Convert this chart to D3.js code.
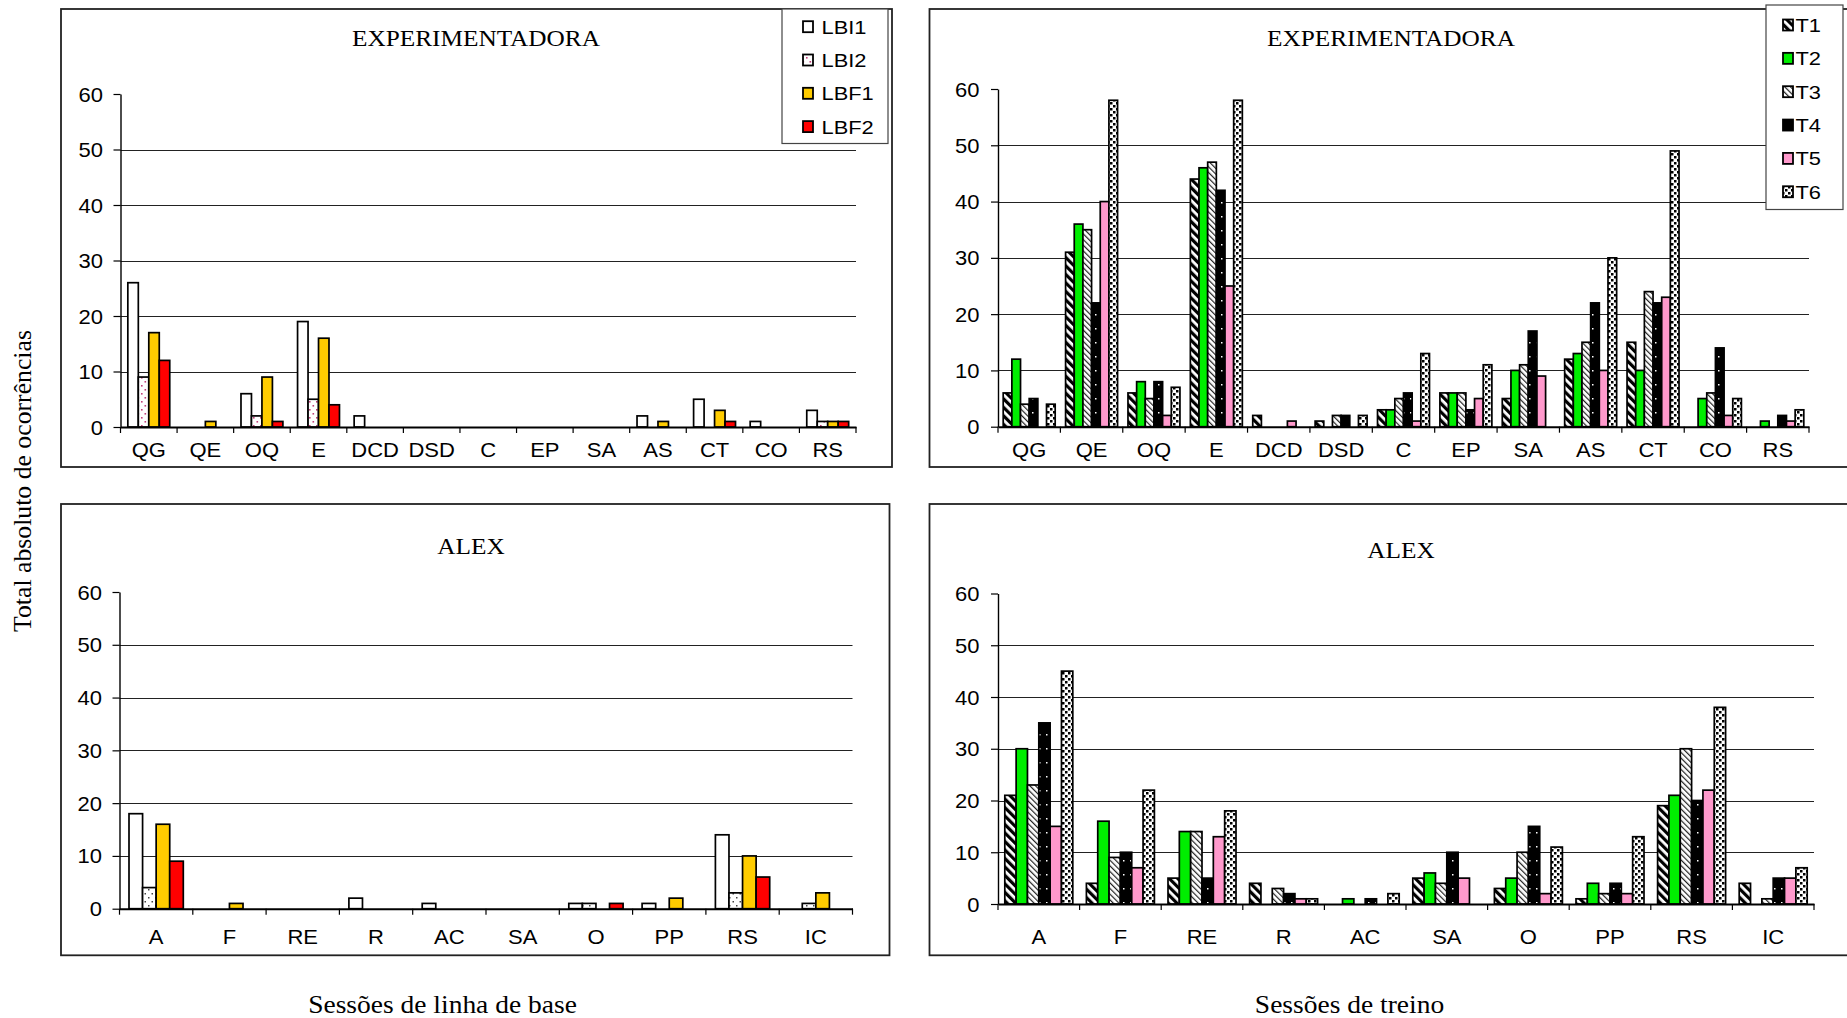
<!DOCTYPE html>
<html><head><meta charset="utf-8">
<script src="https://cdn.jsdelivr.net/npm/d3@7"></script>
<style>
html,body{margin:0;padding:0;background:#fff;}
svg{display:block;}
</style></head><body>
<svg id="chart" width="1847" height="1018"></svg>
<script>
// ---------------- DATA ----------------
const catsExp = ["QG","QE","OQ","E","DCD","DSD","C","EP","SA","AS","CT","CO","RS"];
const catsAlex = ["A","F","RE","R","AC","SA","O","PP","RS","IC"];
const baseSeries = ["LBI1","LBI2","LBF1","LBF2"];
const trainSeries = ["T1","T2","T3","T4","T5","T6"];
const yTicks = [0,10,20,30,40,50,60];
const gridTicks = [10,20,30,40,50];

const expLBI1 = [26,0,6,19,2,0,0,0,0,2,5,1,3];
const expLBI2 = [9,0,2,5,0,0,0,0,0,0,0,0,1];
const expLBF1 = [17,1,9,16,0,0,0,0,0,1,3,0,1];
const expLBF2 = [12,0,1,4,0,0,0,0,0,0,1,0,1];

const expT1 = [6,31,6,44,2,1,3,6,5,12,15,0,0];
const expT2 = [12,36,8,46,0,0,3,6,10,13,10,5,1];
const expT3 = [4,35,5,47,0,2,5,6,11,15,24,6,0];
const expT4 = [5,22,8,42,0,2,6,3,17,22,22,14,2];
const expT5 = [0,40,2,25,1,0,1,5,9,10,23,2,1];
const expT6 = [4,58,7,58,0,2,13,11,0,30,49,5,3];

const alexLBI1 = [18,0,0,2,1,0,1,1,14,0];
const alexLBI2 = [4,0,0,0,0,0,1,0,3,1];
const alexLBF1 = [16,1,0,0,0,0,0,2,10,3];
const alexLBF2 = [9,0,0,0,0,0,1,0,6,0];

const alexT1 = [21,4,5,4,0,5,3,1,19,4];
const alexT2 = [30,16,14,0,1,6,5,4,21,0];
const alexT3 = [23,9,14,3,0,4,10,2,30,1];
const alexT4 = [35,10,5,2,1,10,15,4,20,5];
const alexT5 = [15,7,13,1,0,5,2,2,22,5];
const alexT6 = [45,22,18,1,2,0,11,13,38,7];

const titleExp = "EXPERIMENTADORA";
const titleAlex = "ALEX";
const yTitle = "Total absoluto de ocorrências";
const xTitleBase = "Sessões de linha de base";
const xTitleTrain = "Sessões de treino";

// ---------------- STYLE ----------------
const SANS = "'Liberation Sans', Arial, sans-serif";
const SERIF = "'Liberation Serif', 'Times New Roman', serif";
const SX = 1.1;

const svg = d3.select("#chart");
const defs = svg.append("defs");

function pat(id, w, h, rot, build) {
  const p = defs.append("pattern").attr("id", id).attr("patternUnits", "userSpaceOnUse")
    .attr("width", w).attr("height", h);
  if (rot) p.attr("patternTransform", `rotate(${rot})`);
  build(p);
}
pat("dotsPink", 7, 8, 0, p => {
  p.append("rect").attr("width", 7).attr("height", 8).attr("fill", "#fff");
  p.append("rect").attr("x", 1).attr("y", 1).attr("width", 1.6).attr("height", 1.6).attr("fill", "#c2407a");
  p.append("rect").attr("x", 4.5).attr("y", 5).attr("width", 1.6).attr("height", 1.6).attr("fill", "#c2407a");
});
pat("dotsGray", 7, 8, 0, p => {
  p.append("rect").attr("width", 7).attr("height", 8).attr("fill", "#fff");
  p.append("rect").attr("x", 1).attr("y", 1).attr("width", 1.5).attr("height", 1.5).attr("fill", "#444");
  p.append("rect").attr("x", 4.5).attr("y", 5).attr("width", 1.5).attr("height", 1.5).attr("fill", "#444");
});
pat("pT1", 6, 6, -45, p => {
  p.append("rect").attr("width", 6).attr("height", 6).attr("fill", "#fff");
  p.append("rect").attr("width", 3.2).attr("height", 6).attr("fill", "#000");
});
pat("pT3", 4, 4, -45, p => {
  p.append("rect").attr("width", 4).attr("height", 4).attr("fill", "#fff");
  p.append("rect").attr("width", 1.2).attr("height", 4).attr("fill", "#222");
});
pat("pT4", 7, 14, 0, p => {
  p.append("rect").attr("width", 7).attr("height", 14).attr("fill", "#000");
  p.append("rect").attr("x", 3).attr("y", 6).attr("width", 1.5).attr("height", 1.5).attr("fill", "#fff");
});
pat("pT6", 6, 6, 0, p => {
  p.append("rect").attr("width", 6).attr("height", 6).attr("fill", "#fff");
  p.append("rect").attr("x", 0).attr("y", 0).attr("width", 2.5).attr("height", 2.5).attr("fill", "#000");
  p.append("rect").attr("x", 3).attr("y", 3).attr("width", 2.5).attr("height", 2.5).attr("fill", "#000");
});

const baseFillsExp = ["#ffffff", "url(#dotsPink)", "#ffcc00", "#ff0000"];
const baseFillsAlex = ["#ffffff", "url(#dotsGray)", "#ffcc00", "#ff0000"];
const trainFills = ["url(#pT1)", "#00ee00", "url(#pT3)", "url(#pT4)", "#ff99cc", "url(#pT6)"];

function stretchedText(g, str, x, y, opts) {
  const t = g.append("text").text(str)
    .attr("transform", `translate(${x},${y})${opts.rot ? ` rotate(${opts.rot})` : ""} scale(${opts.sx || SX},1)`)
    .attr("text-anchor", opts.anchor || "middle")
    .attr("font-family", opts.family || SANS)
    .attr("font-size", opts.size)
    .attr("fill", "#000");
  return t;
}

function panel(cfg) {
  const g = svg.append("g");
  // frame
  g.append("rect").attr("x", cfg.frame[0]).attr("y", cfg.frame[1])
    .attr("width", cfg.frame[2] - cfg.frame[0]).attr("height", cfg.frame[3] - cfg.frame[1])
    .attr("fill", "none").attr("stroke", "#222").attr("stroke-width", 1.8);

  const x = d3.scaleBand().domain(cfg.cats).range([cfg.x0, cfg.x1]).paddingInner(0).paddingOuter(0);
  const xs = d3.scaleBand().domain(cfg.series).range([0, x.bandwidth()])
    .paddingInner(0).paddingOuter(cfg.gap / 2);
  const y = d3.scaleLinear().domain([0, 60]).range([cfg.y0, cfg.y60]);

  // gridlines
  g.append("g").selectAll("line").data(gridTicks).join("line")
    .attr("x1", cfg.x0).attr("x2", cfg.x1)
    .attr("y1", d => Math.round(y(d)) + 0.5).attr("y2", d => Math.round(y(d)) + 0.5)
    .attr("stroke", "#222").attr("stroke-width", 1.1);

  // bars
  cfg.series.forEach((s, si) => {
    const vals = cfg.values[si];
    g.append("g").selectAll("rect").data(cfg.cats.map((c, i) => ({ c, v: vals[i] })).filter(d => d.v > 0))
      .join("rect")
      .attr("x", d => x(d.c) + xs(s))
      .attr("y", d => y(d.v))
      .attr("width", xs.bandwidth())
      .attr("height", d => y(0) - y(d.v))
      .attr("fill", cfg.fills[si])
      .attr("stroke", "#000").attr("stroke-width", 1.7);
  });

  // y axis
  const ya = g.append("g").attr("transform", `translate(${cfg.x0},0)`)
    .call(d3.axisLeft(y).tickValues(yTicks).tickSize(7).tickSizeOuter(0).tickPadding(10));
  ya.select(".domain").attr("stroke", "#000").attr("stroke-width", 1.4);
  ya.selectAll(".tick line").attr("stroke", "#000").attr("stroke-width", 1.2);
  ya.selectAll(".tick text")
    .attr("x", null).attr("dy", null)
    .attr("transform", `translate(${-cfg.yLabelGap},7) scale(${SX},1)`)
    .attr("font-family", SANS).attr("font-size", 20).attr("fill", "#000");

  // x axis
  const xa = g.append("g").attr("transform", `translate(0,${cfg.y0})`)
    .call(d3.axisBottom(x).tickSize(0).tickSizeOuter(0));
  xa.select(".domain").attr("stroke", "#000").attr("stroke-width", 2);
  xa.selectAll(".tick text")
    .attr("y", null).attr("dy", null)
    .attr("transform", `translate(0,${cfg.xLabelOff}) scale(${SX},1)`)
    .attr("font-family", SANS).attr("font-size", 20).attr("fill", "#000");
  const bounds = cfg.cats.map(c => x(c)).concat([x.range()[1]]);
  xa.append("g").selectAll("line").data(bounds).join("line")
    .attr("x1", d => d).attr("x2", d => d).attr("y1", 0).attr("y2", 6)
    .attr("stroke", "#000").attr("stroke-width", 1.2);

  // title
  stretchedText(g, cfg.title, cfg.titleX, cfg.titleY, { family: SERIF, size: 23 });

  // legend
  if (cfg.legend) {
    const L = cfg.legend;
    const lg = g.append("g");
    lg.append("rect").attr("x", L.box[0]).attr("y", L.box[1])
      .attr("width", L.box[2] - L.box[0]).attr("height", L.box[3] - L.box[1])
      .attr("fill", "#fff").attr("stroke", "#444").attr("stroke-width", 1.2);
    cfg.series.forEach((s, si) => {
      const cy = L.y0 + si * L.step;
      lg.append("rect").attr("x", L.sx).attr("y", cy - 5.5).attr("width", 10).attr("height", 11)
        .attr("fill", cfg.fills[si]).attr("stroke", "#000").attr("stroke-width", 1.8);
      stretchedText(lg, s, L.tx, cy + 7, { size: 19, anchor: "start", sx: 1.15 });
    });
  }
}

panel({
  frame: [61, 9, 892, 467], x0: 120.5, x1: 856, y0: 427, y60: 94,
  cats: catsExp, series: baseSeries, values: [expLBI1, expLBI2, expLBF1, expLBF2],
  fills: baseFillsExp, gap: 1.4, title: titleExp, titleX: 476, titleY: 46,
  xLabelOff: 30, yLabelGap: 17.5,
  legend: { box: [782, 9, 888, 143.5], y0: 26.7, step: 33.3, sx: 803, tx: 821.5 }
});
panel({
  frame: [929.5, 9, 1852, 467], x0: 998, x1: 1809, y0: 426.7, y60: 89,
  cats: catsExp, series: trainSeries, values: [expT1, expT2, expT3, expT4, expT5, expT6],
  fills: trainFills, gap: 1.2, title: titleExp, titleX: 1391, titleY: 46,
  xLabelOff: 30.5, yLabelGap: 18.5,
  legend: { box: [1766, 5, 1843, 209.5], y0: 25, step: 33.35, sx: 1783, tx: 1795.5 }
});
panel({
  frame: [61, 504, 889.5, 955.3], x0: 119.5, x1: 852.5, y0: 908.7, y60: 592,
  cats: catsAlex, series: baseSeries, values: [alexLBI1, alexLBI2, alexLBF1, alexLBF2],
  fills: baseFillsAlex, gap: 1.4, title: titleAlex, titleX: 471, titleY: 554,
  xLabelOff: 35.5, yLabelGap: 17.5
});
panel({
  frame: [929.5, 504, 1852, 955.3], x0: 998, x1: 1814, y0: 904, y60: 593.5,
  cats: catsAlex, series: trainSeries, values: [alexT1, alexT2, alexT3, alexT4, alexT5, alexT6],
  fills: trainFills, gap: 1.2, title: titleAlex, titleX: 1401, titleY: 558,
  xLabelOff: 40, yLabelGap: 18.5
});

// shared axis titles
stretchedText(svg, yTitle, 30.5, 481, { family: SERIF, size: 25, rot: -90, sx: 1.03 });
stretchedText(svg, xTitleBase, 442.5, 1012.5, { family: SERIF, size: 25 });
stretchedText(svg, xTitleTrain, 1349.5, 1012.5, { family: SERIF, size: 25 });
</script>
</body></html>
